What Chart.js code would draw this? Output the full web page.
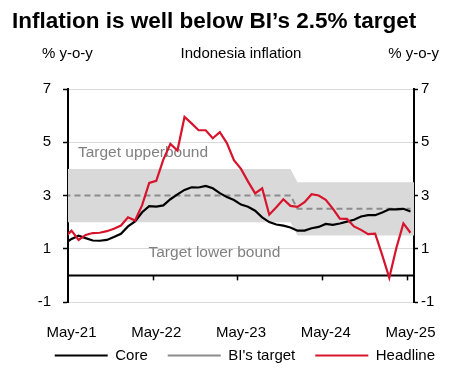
<!DOCTYPE html>
<html lang="en">
<head>
<meta charset="UTF-8">
<title>Indonesia inflation</title>
<script src="https://cdn.jsdelivr.net/npm/chart.js"></script>
<style>
  html, body { margin: 0; padding: 0; background: #fff; }
</style>
</head>
<body>
<canvas id="inflationChart" width="455" height="375"></canvas>
<script>
// Monthly categories (Apr-21 and Jun-25 sit just outside the visible axis)
const months = [
  'Apr-21','May-21','Jun-21','Jul-21','Aug-21','Sep-21','Oct-21','Nov-21','Dec-21',
  'Jan-22','Feb-22','Mar-22','Apr-22','May-22','Jun-22','Jul-22','Aug-22','Sep-22','Oct-22','Nov-22','Dec-22',
  'Jan-23','Feb-23','Mar-23','Apr-23','May-23','Jun-23','Jul-23','Aug-23','Sep-23','Oct-23','Nov-23','Dec-23',
  'Jan-24','Feb-24','Mar-24','Apr-24','May-24','Jun-24','Jul-24','Aug-24','Sep-24','Oct-24','Nov-24','Dec-24',
  'Jan-25','Feb-25','Mar-25','Apr-25','May-25','Jun-25'
];

const headline = [
  1.42, 1.68, 1.33, 1.52, 1.59, 1.60, 1.66, 1.75, 1.87,
  2.18, 2.06, 2.64, 3.47, 3.55, 4.35, 4.94, 4.69, 5.95, 5.71, 5.45, 5.45,
  5.15, 5.38, 4.97, 4.33, 4.00, 3.52, 3.08, 3.27, 2.28, 2.56, 2.86, 2.61,
  2.57, 2.75, 3.05, 3.00, 2.84, 2.51, 2.13, 2.12, 1.84, 1.71, 1.55, 1.57,
  0.76, -0.09, 1.03, 1.95, 1.60, 1.87
];

const core = [
  1.18, 1.37, 1.49, 1.40, 1.31, 1.30, 1.33, 1.44, 1.56,
  1.84, 2.03, 2.37, 2.60, 2.58, 2.63, 2.86, 3.04, 3.21, 3.31, 3.30, 3.36,
  3.27, 3.09, 2.94, 2.83, 2.66, 2.58, 2.43, 2.18, 2.00, 1.91, 1.87, 1.80,
  1.68, 1.68, 1.77, 1.82, 1.93, 1.90, 1.95, 2.02, 2.09, 2.21, 2.26, 2.26,
  2.36, 2.48, 2.48, 2.50, 2.40, 2.37
];

const biTarget = [
  3, 3, 3, 3, 3, 3, 3, 3, 3,
  3, 3, 3, 3, 3, 3, 3, 3, 3, 3, 3, 3,
  3, 3, 3, 3, 3, 3, 3, 3, 3, 3, 3, 3,
  2.5, 2.5, 2.5, 2.5, 2.5, 2.5, 2.5, 2.5, 2.5, 2.5, 2.5, 2.5,
  2.5, 2.5, 2.5, 2.5, 2.5, 2.5
];

const targetUpper = [
  4, 4, 4, 4, 4, 4, 4, 4, 4,
  4, 4, 4, 4, 4, 4, 4, 4, 4, 4, 4, 4,
  4, 4, 4, 4, 4, 4, 4, 4, 4, 4, 4, 4,
  3.5, 3.5, 3.5, 3.5, 3.5, 3.5, 3.5, 3.5, 3.5, 3.5, 3.5, 3.5,
  3.5, 3.5, 3.5, 3.5, 3.5, 3.5
];

const targetLower = [
  2, 2, 2, 2, 2, 2, 2, 2, 2,
  2, 2, 2, 2, 2, 2, 2, 2, 2, 2, 2, 2,
  2, 2, 2, 2, 2, 2, 2, 2, 2, 2, 2, 2,
  1.5, 1.5, 1.5, 1.5, 1.5, 1.5, 1.5, 1.5, 1.5, 1.5, 1.5, 1.5,
  1.5, 1.5, 1.5, 1.5, 1.5, 1.5
];

const FONT = '"Liberation Sans", Arial, sans-serif';
Chart.defaults.font.family = FONT;
Chart.defaults.font.size = 15;
Chart.defaults.color = '#000';

// Title, axis captions, band labels and the zero line
const decorations = {
  id: 'decorations',
  afterLayout(chart) {
    // pull the legend row up under the month labels (bottom kept so it is not clipped)
    const lg = chart.legend;
    if (lg) { lg.top -= 14; }
  },
  beforeDatasetsDraw(chart) {
    const { ctx, chartArea, scales: { x, y } } = chart;
    ctx.save();
    // band labels (lines are drawn over them)
    ctx.fillStyle = '#808080';
    ctx.font = '15.5px ' + FONT;
    ctx.textAlign = 'left';
    ctx.textBaseline = 'middle';
    ctx.fillText('Target upperbound', x.getPixelForValue(1.9), y.getPixelForValue(4.6));
    ctx.fillText('Target lower bound', x.getPixelForValue(11.9), y.getPixelForValue(0.85));
    // x axis line at zero
    const y0 = y.getPixelForValue(0);
    ctx.strokeStyle = '#000';
    ctx.lineWidth = 2;
    ctx.beginPath();
    ctx.moveTo(chartArea.left, y0);
    ctx.lineTo(chartArea.right, y0);
    ctx.stroke();
    ctx.lineWidth = 1.5;
    [12.5, 24.5, 36.5, 48.5].forEach(v => {
      const px = Math.round(x.getPixelForValue(v)) + 0.5;
      ctx.beginPath();
      ctx.moveTo(px, y0);
      ctx.lineTo(px, y0 + 5);
      ctx.stroke();
    });
    ctx.restore();
  },
  afterDraw(chart) {
    const { ctx, chartArea } = chart;
    ctx.save();
    ctx.fillStyle = '#000';
    ctx.textBaseline = 'alphabetic';
    ctx.textAlign = 'left';
    ctx.font = 'bold 22.5px ' + FONT;
    ctx.fillText('Inflation is well below BI\u2019s 2.5% target', 12, 28);
    ctx.font = '15px ' + FONT;
    ctx.fillText('% y-o-y', 42, 58);
    ctx.textAlign = 'center';
    ctx.fillText('Indonesia inflation', (chartArea.left + chartArea.right) / 2, 58);
    ctx.textAlign = 'right';
    ctx.fillText('% y-o-y', 439, 58);
    ctx.restore();
  }
};

new Chart(document.getElementById('inflationChart'), {
  type: 'line',
  data: {
    labels: months,
    datasets: [
      { label: 'Core', data: core, borderColor: '#000', borderWidth: 2.2, order: 2 },
      { label: "BI's target", data: biTarget, borderColor: '#8c8c8c', borderWidth: 2, borderDash: [6, 4], order: 3 },
      { label: 'Headline', data: headline, borderColor: '#d7142c', borderWidth: 2.2, order: 1 },
      { label: 'lower', data: targetLower, borderColor: 'rgba(0,0,0,0)', borderWidth: 0, fill: false, order: 5 },
      { label: 'upper', data: targetUpper, borderColor: 'rgba(0,0,0,0)', borderWidth: 0, backgroundColor: '#d9d9d9', fill: '-1', order: 4 }
    ]
  },
  options: {
    responsive: false,
    animation: false,
    events: [],
    elements: { point: { radius: 0 }, line: { tension: 0 } },
    layout: { padding: { top: 89, left: 0, right: 0, bottom: 0 } },
    scales: {
      x: {
        type: 'category',
        offset: true,
        min: 'May-21',
        max: 'May-25',
        grid: { display: false },
        border: { display: false },
        ticks: {
          autoSkip: false,
          maxRotation: 0,
          padding: 14,
          callback(v) {
            const l = this.getLabelForValue(v);
            return l.startsWith('May') ? l : '';
          }
        },
        afterFit: s => { s.height = 40; }
      },
      y: {
        position: 'left',
        min: -1,
        max: 7,
        ticks: { stepSize: 2, padding: 12 },
        grid: { color: '#d9d9d9', lineWidth: 1, tickColor: '#000', tickLength: 5, tickWidth: 1.5 },
        border: { color: '#000', width: 2 },
        afterFit: s => { s.width = 68; }
      },
      y2: {
        position: 'right',
        min: -1,
        max: 7,
        ticks: { stepSize: 2, padding: 3 },
        grid: { drawOnChartArea: false, tickColor: '#000', tickLength: 4, tickWidth: 1.5 },
        border: { color: '#000', width: 2 },
        afterFit: s => { s.width = 41; }
      }
    },
    plugins: {
      tooltip: { enabled: false },
      legend: {
        position: 'bottom',
        align: 'end',
        maxHeight: 33,
        labels: {
          usePointStyle: true,
          pointStyle: 'line',
          pointStyleWidth: 53,
          boxWidth: 53,
          padding: 20,
          filter: item => item.datasetIndex < 3,
          sort: (a, b) => a.datasetIndex - b.datasetIndex
        }
      }
    }
  },
  plugins: [decorations]
});
</script>
</body>
</html>
